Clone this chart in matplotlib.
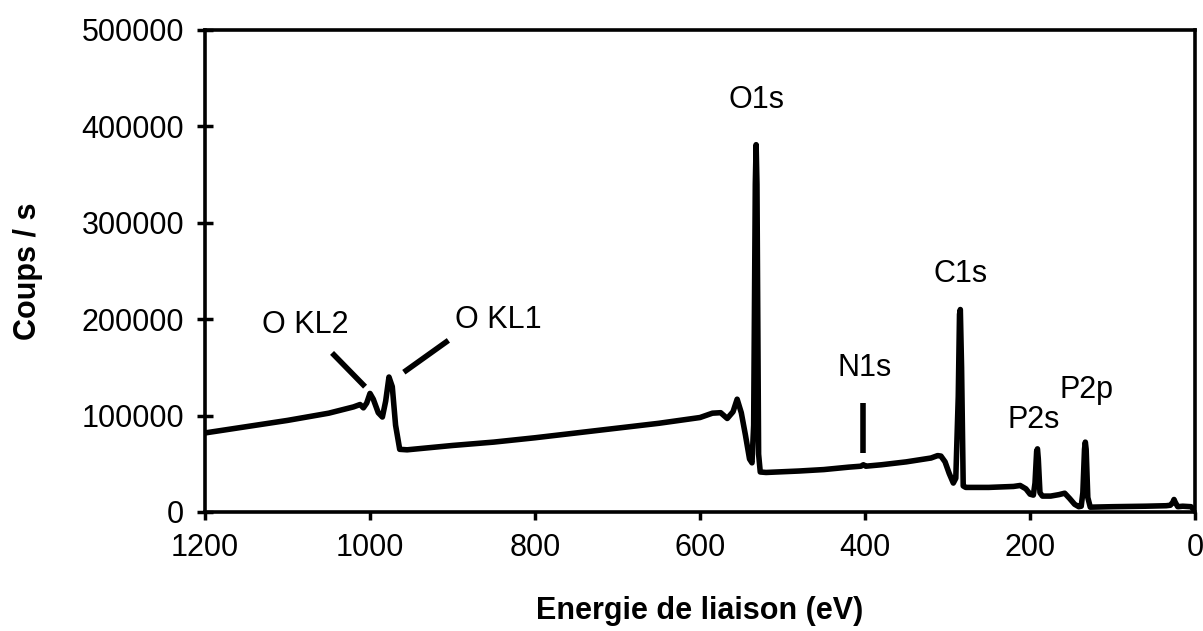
import numpy as np
import matplotlib.pyplot as plt

plt.rcParams['font.family'] = ['Liberation Sans', 'DejaVu Sans']

# XPS survey spectrum (binding energy in eV, counts/s)
energie = [1200, 1150, 1100, 1050, 1020, 1012, 1008, 1004, 1000, 996, 990, 985,
           981, 977, 973, 969, 964, 955, 900, 850, 800, 750, 700, 650, 600, 585,
           575, 567, 560, 555, 550, 545, 540, 537, 535, 533, 532, 531, 529, 527,
           520, 480, 450, 420, 405, 402, 399, 380, 350, 320, 312, 308, 303, 298,
           293, 290, 287, 285.5, 284.5, 283, 281, 278, 250, 220, 212, 205, 200,
           196, 194, 192, 191, 190, 188, 185, 175, 165, 158, 152, 146, 141, 138,
           136, 134, 133, 132, 130, 127, 100, 60, 35, 30, 27, 25.5, 24, 21, 15,
           5, 2, 0]
coups = [82000, 88500, 95000, 102500, 109000, 111500, 108000, 113000, 123000,
         117000, 103000, 98500, 115000, 140000, 130000, 90000, 65000, 64500,
         69000, 72500, 77000, 82000, 87000, 92000, 98000, 102500, 103000, 97000,
         104000, 117000, 103000, 80000, 55000, 51000, 90000, 340000, 381000,
         340000, 60000, 41500, 41000, 42500, 44000, 46500, 47500, 49000, 47500,
         49000, 52000, 56000, 58500, 58000, 52000, 40000, 30000, 35000, 120000,
         205000, 210000, 150000, 27000, 25500, 25500, 26500, 27500, 24000,
         18500, 17500, 30000, 63000, 65500, 55000, 20000, 16500, 16500, 18000,
         19500, 14000, 8000, 5500, 6000, 20000, 65000, 72500, 65000, 15000,
         5000, 5500, 6000, 6500, 7000, 10000, 13000, 10000, 5500, 6000, 5500,
         3000, 2000]

# peak labels: text, x, y
labels = ['O KL2', 'O KL1', 'O1s', 'N1s', 'C1s', 'P2s', 'P2p']
label_x = [1079, 845, 532, 400, 284, 196, 131]
label_y = [194000, 199000, 427000, 149000, 247000, 95000, 127000]

# marker segments for the smaller peaks
seg_x = [[1046, 1006], [905, 959], [402, 402]]
seg_y = [[165000, 130000], [178000, 145000], [61000, 113000]]

fig = plt.figure(figsize=(12.03, 6.31), dpi=100)
ax = fig.add_axes([0.1704, 0.1886, 0.823, 0.7639])

ax.plot(energie, coups, color='black', lw=4, solid_joinstyle='round')
for sx, sy in zip(seg_x, seg_y):
    ax.plot(sx, sy, color='black', lw=4, solid_capstyle='butt')
for t, x, y in zip(labels, label_x, label_y):
    ax.text(x, y, t, fontsize=22, ha='center', va='center')

ax.set_xlim(1200, 0)
ax.set_ylim(0, 500000)
ax.set_xticks(np.arange(1200, -1, -200))
ax.set_yticks(np.arange(0, 500001, 100000))
ax.tick_params(axis='y', direction='inout', length=12, width=2.5, labelsize=22, pad=9)
ax.tick_params(axis='x', direction='out', length=6, width=2.5, labelsize=22, pad=9)
for s in ax.spines.values():
    s.set_linewidth(2.6)

ax.set_xlabel('Energie de liaison (eV)', fontsize=22, fontweight='bold', labelpad=24)
ax.set_ylabel('Coups / s', fontsize=22, fontweight='bold', labelpad=28)

fig.savefig('out.png', dpi=100)
